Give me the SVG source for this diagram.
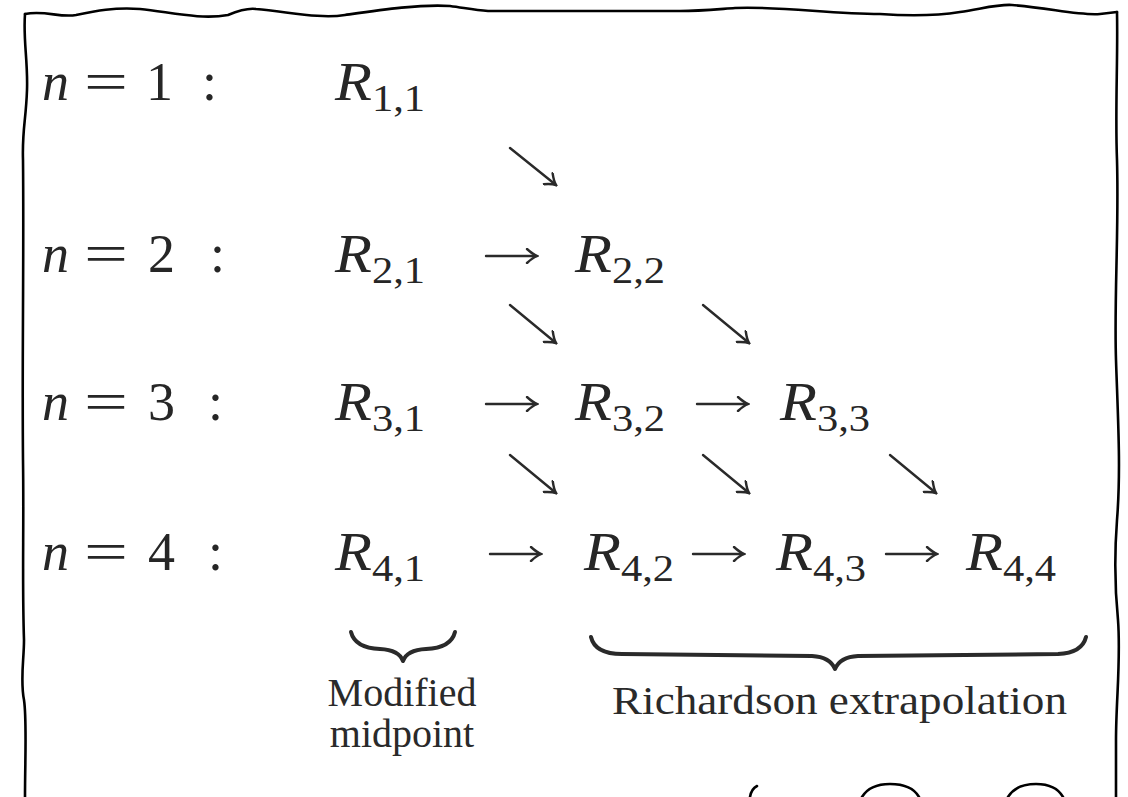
<svg xmlns="http://www.w3.org/2000/svg" width="1128" height="797" viewBox="0 0 1128 797">
<defs>
<style>
.bd{fill:none;stroke:#000;stroke-width:2.6;stroke-linecap:round;stroke-linejoin:round}
.m{font-family:"Liberation Serif","Times New Roman",serif;font-size:54px;fill:#262626}
.it{font-style:italic}
.sub{font-size:38px}
.lbl{font-family:"Liberation Serif","Times New Roman",serif;font-size:40px;fill:#2a2a2a}
.ar{fill:none;stroke:#2a2a2a;stroke-width:2.4;stroke-linecap:round}
.br{fill:none;stroke:#2a2a2a;stroke-width:4;stroke-linecap:round;stroke-linejoin:round}
</style>
<marker id="ah" viewBox="-12 -8 14 16" markerWidth="14" markerHeight="16" refX="0" refY="0" orient="auto" markerUnits="userSpaceOnUse">
<path d="M-10,-7 Q-4,-1.5 0,0 Q-4,1.5 -10,7" fill="none" stroke="#2a2a2a" stroke-width="2.4" stroke-linecap="round"/>
</marker>
</defs>
<rect width="1128" height="797" fill="#fff"/>
<g id="border">
<path class="bd" d="M25,14 C45,10 60,18 76,15 C95,11 115,7 140,9 C170,12 200,20 228,15 C240,10 248,8 256,9 C290,12 320,19 345,15 C380,10 420,4 450,6 C465,8 475,10 488,11 L680,11 C700,11 720,9 735,8 C780,6 830,14 880,14 C910,16 935,16 960,12 C985,8 1000,4 1012,5 C1050,8 1080,16 1100,14 L1117,12"/>
<path class="bd" d="M25,14 C23,40 28,60 27,90 C26,120 22,130 23,160 C24,260 22,360 23,460 C24,530 22,580 24,640 C24,660 20,680 24,700 C27,720 25,760 25,797"/>
<path class="bd" d="M1117,12 C1118,60 1115,110 1117,160 C1119,230 1114,300 1116,360 C1118,420 1121,470 1117,520 C1114,560 1115,590 1118,620 C1121,660 1116,700 1116,740 L1116,797"/>
<path class="bd" d="M750,797 C751,791 753,788 757,786"/>
<path class="bd" d="M862,797 C868,787 880,784 890,784 C904,784 914,788 919,797"/>
<path class="bd" d="M1008,797 C1014,787 1026,784 1036,784 C1050,784 1058,788 1063,797"/>
</g>
<g id="row-labels" class="m">
<g id="label-n1"><text y="100"><tspan x="42" class="it">n</tspan><tspan x="84" textLength="44" lengthAdjust="spacingAndGlyphs">=</tspan><tspan x="146">1</tspan><tspan x="202">:</tspan></text></g>
<g id="label-n2"><text y="272"><tspan x="42" class="it">n</tspan><tspan x="84" textLength="44" lengthAdjust="spacingAndGlyphs">=</tspan><tspan x="148">2</tspan><tspan x="210">:</tspan></text></g>
<g id="label-n3"><text y="420"><tspan x="42" class="it">n</tspan><tspan x="84" textLength="44" lengthAdjust="spacingAndGlyphs">=</tspan><tspan x="148">3</tspan><tspan x="208">:</tspan></text></g>
<g id="label-n4"><text y="570"><tspan x="42" class="it">n</tspan><tspan x="84" textLength="44" lengthAdjust="spacingAndGlyphs">=</tspan><tspan x="148">4</tspan><tspan x="208">:</tspan></text></g>
</g>
<g id="R11" class="m" transform="translate(335,100) scale(1.12,1)"><text><tspan class="it">R</tspan><tspan class="sub" dy="11">1,1</tspan></text></g>
<g id="R21" class="m" transform="translate(335,272) scale(1.12,1)"><text><tspan class="it">R</tspan><tspan class="sub" dy="11">2,1</tspan></text></g>
<g id="R22" class="m" transform="translate(575,272) scale(1.12,1)"><text><tspan class="it">R</tspan><tspan class="sub" dy="11">2,2</tspan></text></g>
<g id="R31" class="m" transform="translate(335,420) scale(1.12,1)"><text><tspan class="it">R</tspan><tspan class="sub" dy="11">3,1</tspan></text></g>
<g id="R32" class="m" transform="translate(575,420) scale(1.12,1)"><text><tspan class="it">R</tspan><tspan class="sub" dy="11">3,2</tspan></text></g>
<g id="R33" class="m" transform="translate(780,420) scale(1.12,1)"><text><tspan class="it">R</tspan><tspan class="sub" dy="11">3,3</tspan></text></g>
<g id="R41" class="m" transform="translate(335,570) scale(1.12,1)"><text><tspan class="it">R</tspan><tspan class="sub" dy="11">4,1</tspan></text></g>
<g id="R42" class="m" transform="translate(584,570) scale(1.12,1)"><text><tspan class="it">R</tspan><tspan class="sub" dy="11">4,2</tspan></text></g>
<g id="R43" class="m" transform="translate(776,570) scale(1.12,1)"><text><tspan class="it">R</tspan><tspan class="sub" dy="11">4,3</tspan></text></g>
<g id="R44" class="m" transform="translate(966,570) scale(1.12,1)"><text><tspan class="it">R</tspan><tspan class="sub" dy="11">4,4</tspan></text></g>
<g id="connectors">
<line class="ar" x1="510" y1="148" x2="556" y2="185" marker-end="url(#ah)"/>
<line class="ar" x1="486" y1="256" x2="537" y2="256" marker-end="url(#ah)"/>
<line class="ar" x1="510" y1="305" x2="556" y2="343" marker-end="url(#ah)"/>
<line class="ar" x1="703" y1="305" x2="749" y2="343" marker-end="url(#ah)"/>
<line class="ar" x1="486" y1="404" x2="537" y2="404" marker-end="url(#ah)"/>
<line class="ar" x1="697" y1="404" x2="748" y2="404" marker-end="url(#ah)"/>
<line class="ar" x1="510" y1="455" x2="556" y2="493" marker-end="url(#ah)"/>
<line class="ar" x1="703" y1="455" x2="749" y2="493" marker-end="url(#ah)"/>
<line class="ar" x1="890" y1="455" x2="936" y2="493" marker-end="url(#ah)"/>
<line class="ar" x1="490" y1="554" x2="541" y2="554" marker-end="url(#ah)"/>
<line class="ar" x1="693" y1="554" x2="744" y2="554" marker-end="url(#ah)"/>
<line class="ar" x1="886" y1="554" x2="937" y2="554" marker-end="url(#ah)"/>
</g>
<g id="brace-midpoint">
<path class="br" d="M351,632 Q355,648 380,649 Q399,650 403,661 Q407,650 426,649 Q451,648 455,632"/>
<text class="lbl" x="402" y="706" text-anchor="middle">Modified</text>
<text class="lbl" x="402" y="747" text-anchor="middle">midpoint</text>
</g>
<g id="brace-richardson">
<path class="br" d="M591,637 Q595,654 622,654 L812,656 Q830,657 835,669 Q840,657 858,656 L1058,654 Q1082,653 1086,637"/>
<text class="lbl" x="612" y="714" textLength="455" lengthAdjust="spacingAndGlyphs">Richardson extrapolation</text>
</g>
</svg>
